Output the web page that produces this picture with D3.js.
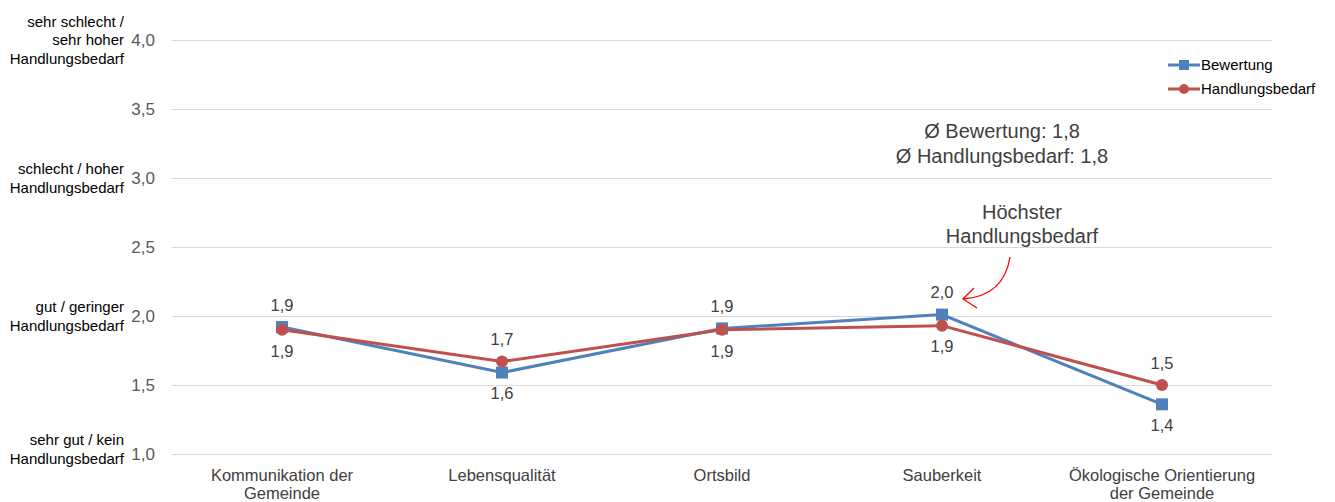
<!DOCTYPE html>
<html>
<head>
<meta charset="utf-8">
<script src="https://cdn.jsdelivr.net/npm/d3@7"></script>
<style>
  body { margin: 0; background: #fff; }
  svg { font-family: "Liberation Sans", Arial, sans-serif; display: block; }
</style>
</head>
<body>
<script>
// data
var categories = [["Kommunikation der", "Gemeinde"], ["Lebensqualität"], ["Ortsbild"], ["Sauberkeit"], ["Ökologische Orientierung", "der Gemeinde"]];
var bewertung = [1.92, 1.59, 1.91, 2.01, 1.36];
var handlungsbedarf = [1.90, 1.67, 1.90, 1.93, 1.50];
var bewertungLabels = ["1,9", "1,6", "1,9", "2,0", "1,4"];
var handlungLabels = ["1,9", "1,7", "1,9", "1,9", "1,5"];
var bewertungPos = ["above", "below", "above", "above", "below"];
var handlungPos = ["below", "above", "below", "below", "above"];
var yTicks = [1.0, 1.5, 2.0, 2.5, 3.0, 3.5, 4.0];
var yDescriptions = [
  { v: 4.0, lines: ["sehr schlecht /", "sehr hoher", "Handlungsbedarf"] },
  { v: 3.0, lines: ["schlecht / hoher", "Handlungsbedarf"] },
  { v: 2.0, lines: ["gut / geringer", "Handlungsbedarf"] },
  { v: 1.0, lines: ["sehr gut / kein", "Handlungsbedarf"] }
];
var seriesNames = ["Bewertung", "Handlungsbedarf"];
var averageLines = ["Ø Bewertung: 1,8", "Ø Handlungsbedarf: 1,8"];
var calloutLines = ["Höchster", "Handlungsbedarf"];

var width = 1335;
var height = 502;
var margin = { top: 40, right: 63, bottom: 48, left: 172 };

var blue = "#4f81bd";
var red = "#c0504d";
var textColor = "#404040";

var svg = d3.select("body").append("svg")
  .attr("width", width)
  .attr("height", height);

var x = d3.scaleBand()
  .domain(d3.range(categories.length))
  .range([margin.left, width - margin.right]);

var y = d3.scaleLinear()
  .domain([1, 4])
  .range([height - margin.bottom, margin.top]);

var cx = function (i) { return x(i) + x.bandwidth() / 2; };

// gridlines
svg.append("g").selectAll("line")
  .data(yTicks)
  .enter().append("line")
  .attr("x1", margin.left)
  .attr("x2", width - margin.right)
  .attr("y1", function (d) { return Math.round(y(d)) + 0.5; })
  .attr("y2", function (d) { return Math.round(y(d)) + 0.5; })
  .style("stroke", "#d9d9d9")
  .style("stroke-width", 1);

// y tick labels
svg.append("g").selectAll("text")
  .data(yTicks)
  .enter().append("text")
  .attr("x", 155)
  .attr("y", function (d) { return y(d); })
  .attr("dy", "0.35em")
  .attr("text-anchor", "end")
  .style("font-size", "17px")
  .style("fill", "#595959")
  .text(function (d) { return d3.format(".1f")(d).replace(".", ","); });

// descriptive y labels
var desc = svg.append("g").selectAll("text")
  .data(yDescriptions)
  .enter().append("text")
  .attr("text-anchor", "end")
  .style("font-size", "15px")
  .style("fill", "#000");

desc.each(function (d) {
  var t = d3.select(this);
  var lh = 18.5;
  var y0 = y(d.v) - (d.lines.length - 1) * lh / 2;
  if (d.v === 1.0) y0 -= 5;
  d.lines.forEach(function (l, i) {
    t.append("tspan")
      .attr("x", 124)
      .attr("y", y0 + i * lh)
      .attr("dy", "0.35em")
      .text(l);
  });
});

// category labels
var cat = svg.append("g").selectAll("text")
  .data(categories)
  .enter().append("text")
  .attr("text-anchor", "middle")
  .style("font-size", "16.5px")
  .style("fill", textColor);

cat.each(function (d, i) {
  var t = d3.select(this);
  d.forEach(function (l, j) {
    t.append("tspan")
      .attr("x", cx(i))
      .attr("y", 475 + j * 18.5)
      .attr("dy", "0.35em")
      .text(l);
  });
});

// lines
var line = d3.line()
  .x(function (d, i) { return cx(i); })
  .y(function (d) { return y(d); });

svg.append("path").datum(bewertung)
  .attr("d", line)
  .style("fill", "none")
  .style("stroke", blue)
  .style("stroke-width", 3);

svg.append("path").datum(handlungsbedarf)
  .attr("d", line)
  .style("fill", "none")
  .style("stroke", red)
  .style("stroke-width", 3);

// markers
svg.append("g").selectAll("rect")
  .data(bewertung)
  .enter().append("rect")
  .attr("x", function (d, i) { return cx(i) - 6; })
  .attr("y", function (d) { return y(d) - 6; })
  .attr("width", 12)
  .attr("height", 12)
  .style("fill", blue);

svg.append("g").selectAll("circle")
  .data(handlungsbedarf)
  .enter().append("circle")
  .attr("cx", function (d, i) { return cx(i); })
  .attr("cy", function (d) { return y(d); })
  .attr("r", 6)
  .style("fill", red);

// data labels
function drawLabels(values, labels, pos) {
  svg.append("g").selectAll("text")
    .data(values)
    .enter().append("text")
    .attr("x", function (d, i) { return cx(i); })
    .attr("y", function (d, i) { return pos[i] === "above" ? y(d) - 22 : y(d) + 21; })
    .attr("dy", "0.35em")
    .attr("text-anchor", "middle")
    .style("font-size", "16.5px")
    .style("fill", textColor)
    .text(function (d, i) { return labels[i]; });
}
drawLabels(bewertung, bewertungLabels, bewertungPos);
drawLabels(handlungsbedarf, handlungLabels, handlungPos);

// legend
var legend = svg.append("g").attr("transform", "translate(1168, 65)");
seriesNames.forEach(function (name, i) {
  var g = legend.append("g").attr("transform", "translate(0," + (i * 24) + ")");
  var c = i === 0 ? blue : red;
  g.append("line").attr("x1", 0).attr("x2", 32).attr("y1", 0).attr("y2", 0)
    .style("stroke", c).style("stroke-width", 3);
  if (i === 0) {
    g.append("rect").attr("x", 11).attr("y", -5).attr("width", 10).attr("height", 10).style("fill", c);
  } else {
    g.append("circle").attr("cx", 16).attr("cy", 0).attr("r", 5).style("fill", c);
  }
  g.append("text").attr("x", 33).attr("y", 0).attr("dy", "0.35em")
    .style("font-size", "15px").style("fill", "#000").text(name);
});

// annotations
svg.append("g").selectAll("text")
  .data(averageLines)
  .enter().append("text")
  .attr("x", 1002)
  .attr("y", function (d, i) { return 131 + i * 25; })
  .attr("dy", "0.35em")
  .attr("text-anchor", "middle")
  .style("font-size", "20px")
  .style("fill", textColor)
  .text(function (d) { return d; });

svg.append("g").selectAll("text")
  .data(calloutLines)
  .enter().append("text")
  .attr("x", 1022)
  .attr("y", function (d, i) { return 212 + i * 24; })
  .attr("dy", "0.35em")
  .attr("text-anchor", "middle")
  .style("font-size", "20px")
  .style("fill", textColor)
  .text(function (d) { return d; });

// red arrow
svg.append("path")
  .attr("d", "M1010,257 Q1004,296 963,299")
  .style("fill", "none")
  .style("stroke", "#ff0000")
  .style("stroke-width", 1.3);
svg.append("path")
  .attr("d", "M974,288 L963,299 L977,308")
  .style("fill", "none")
  .style("stroke", "#ff0000")
  .style("stroke-width", 1.3);
</script>
</body>
</html>
